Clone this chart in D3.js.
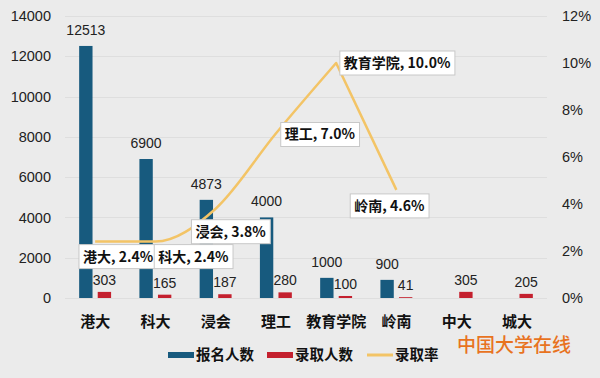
<!DOCTYPE html>
<html><head><meta charset="utf-8">
<script src="https://cdn.jsdelivr.net/npm/d3@7/dist/d3.min.js"></script>
<style>body{margin:0;background:#ebebeb} svg{display:block}</style>
</head><body><svg id="c" width="600" height="378"></svg>
<script>
// ---- data ----
const categories = ["港大","科大","浸会","理工","教育学院","岭南","中大","城大"];
const applicants = [12513, 6900, 4873, 4000, 1000, 900, null, null];
const admitted   = [303, 165, 187, 280, 100, 41, 305, 205];
const admitRate  = [2.4, 2.4, 3.8, 7.0, 10.0, 4.6, null, null];
const leftTicks  = [0, 2000, 4000, 6000, 8000, 10000, 12000, 14000];
const rightTicks = [0, 2, 4, 6, 8, 10, 12];
const seriesNames = ["报名人数", "录取人数", "录取率"];
const sourceText = "中国大学在线";

// ---- layout / style ----
const W = 600, H = 378;
const plot = {left: 65, right: 547, top: 16, bottom: 298};
const colors = {blue: "#175a7e", red: "#c4202e", line: "#f3c466", bg: "#ebebeb", grid: "#dedede"};
const numFont = "'Liberation Sans', 'Noto Sans CJK SC', sans-serif";
const cjkFont = "'Noto Sans CJK SC', 'Liberation Sans', sans-serif";
// offsets of rate labels (box centre relative to point)
const rateLabelOffsets = [[23,15],[38,15],[15,23],[44,1],[61,0],[-7,16]];

const svg = d3.select("#c");
svg.append("rect").attr("width", W).attr("height", H).attr("fill", colors.bg);

const x0 = d3.scaleBand().domain(categories).range([plot.left, plot.right])
  .paddingInner(0.47).paddingOuter(0.235);
const x1 = d3.scaleBand().domain(["a","b"]).range([0, x0.bandwidth()]).paddingInner(0.28);
const yL = d3.scaleLinear().domain([0, 14000]).range([plot.bottom, plot.top]);
const yR = d3.scaleLinear().domain([0, 12]).range([plot.bottom, plot.top]);

// gridlines
svg.append("g").selectAll("line").data(leftTicks).join("line")
  .attr("x1", plot.left).attr("x2", plot.right)
  .attr("y1", d => Math.round(yL(d)) + 0.5).attr("y2", d => Math.round(yL(d)) + 0.5)
  .attr("stroke", colors.grid).attr("stroke-width", 1);

// left axis
const axL = svg.append("g").attr("transform", `translate(${plot.left},0)`)
  .call(d3.axisLeft(yL).tickValues(leftTicks).tickSize(0).tickPadding(14).tickFormat(d3.format("d")));
axL.select(".domain").remove();
axL.selectAll("text").attr("font-family", numFont).attr("font-size", 14.5).attr("fill", "#222");

// right axis
const axR = svg.append("g").attr("transform", `translate(${plot.right},0)`)
  .call(d3.axisRight(yR).tickValues(rightTicks).tickSize(0).tickPadding(15).tickFormat(d => d + "%"));
axR.select(".domain").remove();
axR.selectAll("text").attr("font-family", numFont).attr("font-size", 14.5).attr("fill", "#222");

// category axis
const axB = svg.append("g").attr("transform", `translate(0,${plot.bottom})`)
  .call(d3.axisBottom(x0).tickSize(0).tickPadding(18));
axB.select(".domain").remove();
axB.selectAll("text").attr("font-family", cjkFont).attr("font-size", 15).attr("font-weight", 700).attr("fill", "#111");

// bars
const gBars = svg.append("g");
categories.forEach((c, i) => {
  if (applicants[i] != null) {
    gBars.append("rect").attr("x", x0(c) + x1("a")).attr("width", x1.bandwidth())
      .attr("y", yL(applicants[i])).attr("height", yL(0) - yL(applicants[i])).attr("fill", colors.blue);
  }
  gBars.append("rect").attr("x", x0(c) + x1("b")).attr("width", x1.bandwidth())
    .attr("y", yL(admitted[i])).attr("height", yL(0) - yL(admitted[i])).attr("fill", colors.red);
});

// bar value labels
categories.forEach((c, i) => {
  if (applicants[i] != null) {
    svg.append("text").attr("x", x0(c) + x1("a") + x1.bandwidth() / 2).attr("y", yL(applicants[i]) - 11)
      .attr("text-anchor", "middle").attr("font-family", numFont).attr("font-size", 14).attr("fill", "#222")
      .text(applicants[i]);
  }
  svg.append("text").attr("x", x0(c) + x1("b") + x1.bandwidth() / 2).attr("y", yL(admitted[i]) - 7)
    .attr("text-anchor", "middle").attr("font-family", numFont).attr("font-size", 14).attr("fill", "#222")
    .text(admitted[i]);
});

// rate line
const pts = [];
categories.forEach((c, i) => {
  if (admitRate[i] != null) pts.push([x0(c) + x0.bandwidth() / 2, yR(admitRate[i]), i]);
});
const smooth = d3.line().curve(d3.curveMonotoneX)(pts.slice(0, pts.length - 1).map(p => [p[0], p[1]]));
const last = pts[pts.length - 1];
svg.append("path").attr("d", smooth + "L" + last[0] + "," + last[1])
  .attr("fill", "none").attr("stroke", colors.line).attr("stroke-width", 2.5).attr("stroke-linejoin", "round");

// rate labels
pts.forEach((p, k) => {
  const i = p[2];
  const off = rateLabelOffsets[k];
  const cx = p[0] + off[0], cy = p[1] + off[1];
  const g = svg.append("g");
  const t = g.append("text").attr("x", cx).attr("y", cy).attr("dy", "0.35em")
    .attr("text-anchor", "middle").attr("font-family", cjkFont).attr("font-size", 14)
    .attr("font-weight", 700).attr("fill", "#111")
    .text(categories[i] + ", " + d3.format(".1f")(admitRate[i]) + "%");
  const bb = t.node().getBBox();
  g.insert("rect", "text").attr("x", bb.x - 4).attr("y", cy - 12).attr("width", bb.width + 8).attr("height", 24)
    .attr("fill", "#fff").attr("stroke", "#c8c8c8").attr("stroke-width", 1);
});

// legend
const legY = 355;
const leg = svg.append("g");
const legItems = [
  {x: 168, type: "rect", color: colors.blue},
  {x: 267, type: "rect", color: colors.red},
  {x: 367, type: "line", color: colors.line}
];
legItems.forEach((it, k) => {
  if (it.type === "rect") {
    leg.append("rect").attr("x", it.x).attr("y", legY - 3).attr("width", 26).attr("height", 6).attr("fill", it.color);
  } else {
    leg.append("line").attr("x1", it.x).attr("x2", it.x + 26).attr("y1", legY).attr("y2", legY)
      .attr("stroke", it.color).attr("stroke-width", 3);
  }
  leg.append("text").attr("x", it.x + 28).attr("y", legY).attr("dy", "0.35em")
    .attr("font-family", cjkFont).attr("font-size", 14.5).attr("font-weight", 700).attr("fill", "#111")
    .text(seriesNames[k]);
});

// source text
svg.append("text").attr("x", 457).attr("y", 345).attr("dy", "0.35em")
  .attr("font-family", cjkFont).attr("font-size", 19).attr("font-weight", 500).attr("fill", "#e8731f")
  .text(sourceText);
</script></body></html>
